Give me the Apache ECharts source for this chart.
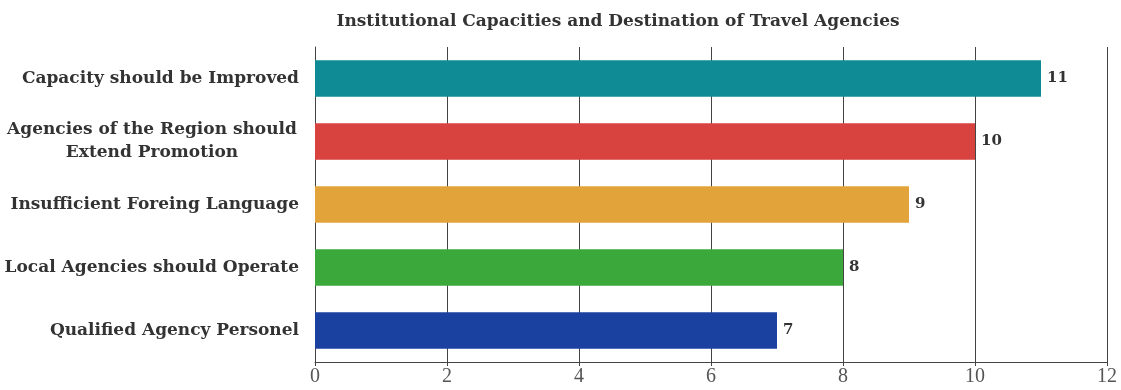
<!DOCTYPE html>
<html>
<head>
<meta charset="utf-8">
<script src="https://cdn.jsdelivr.net/npm/echarts@6/dist/echarts.min.js"></script>
<style>
  html, body { margin: 0; padding: 0; background: #fff; }
  #chart { width: 1121px; height: 390px; }
</style>
</head>
<body>
<div id="chart"></div>
<script>
// Categories listed bottom-to-top (ECharts category y-axis starts at the bottom)
const categories = [
  'Qualified Agency Personel',
  'Local Agencies should Operate',
  'Insufficient Foreing Language',
  'Agencies of the Region should\nExtend Promotion',
  'Capacity should be Improved'
];
const values = [7, 8, 9, 10, 11];
const barColors = ['#1a40a0', '#3ba83b', '#e2a43a', '#d8423f', '#0e8b94'];
const xTicks = [0, 2, 4, 6, 8, 10, 12];

const boldSerif = '"DejaVu Serif", "Liberation Serif", serif';
const tickSerif = '"Liberation Serif", serif';

const chart = echarts.init(document.getElementById('chart'));
chart.setOption({
  animation: false,
  title: {
    text: 'Institutional Capacities and Destination of Travel Agencies',
    left: 613,
    textAlign: 'center',
    top: 8,
    textStyle: { fontFamily: boldSerif, fontWeight: 'bold', fontSize: 17, color: '#333' }
  },
  grid: { left: 315, right: 14, top: 47, bottom: 28, containLabel: false },
  xAxis: {
    type: 'value',
    min: xTicks[0],
    max: xTicks[xTicks.length - 1],
    interval: 2,
    axisLine: { show: true, lineStyle: { color: '#444', width: 1 } },
    axisTick: { show: true, length: 4, lineStyle: { color: '#444' } },
    axisLabel: { fontFamily: tickSerif, fontSize: 20, color: '#555', margin: 5 },
    splitLine: { show: true, lineStyle: { color: '#444', width: 1 } }
  },
  yAxis: {
    type: 'category',
    data: categories,
    axisLine: { show: true, lineStyle: { color: '#444', width: 1 } },
    axisTick: { show: false },
    axisLabel: {
      fontFamily: boldSerif,
      fontWeight: 'bold',
      fontSize: 17,
      color: '#333',
      margin: 16,
      lineHeight: 23,
      formatter: function (v) {
        if (v.indexOf('\n') >= 0) {
          return v.split('\n').map(function (s) { return '{c|' + s + '}'; }).join('\n');
        }
        return v;
      },
      rich: {
        c: {
          width: 294, align: 'center',
          fontFamily: boldSerif, fontWeight: 'bold', fontSize: 17, color: '#333', lineHeight: 23
        }
      }
    }
  },
  series: [{
    type: 'bar',
    data: values.map(function (v, i) { return { value: v, itemStyle: { color: barColors[i] } }; }),
    barCategoryGap: '42%',
    label: {
      show: true,
      position: 'right',
      distance: 6,
      fontFamily: boldSerif,
      fontWeight: 'bold',
      fontSize: 15,
      color: '#333'
    }
  }]
});
</script>
</body>
</html>
